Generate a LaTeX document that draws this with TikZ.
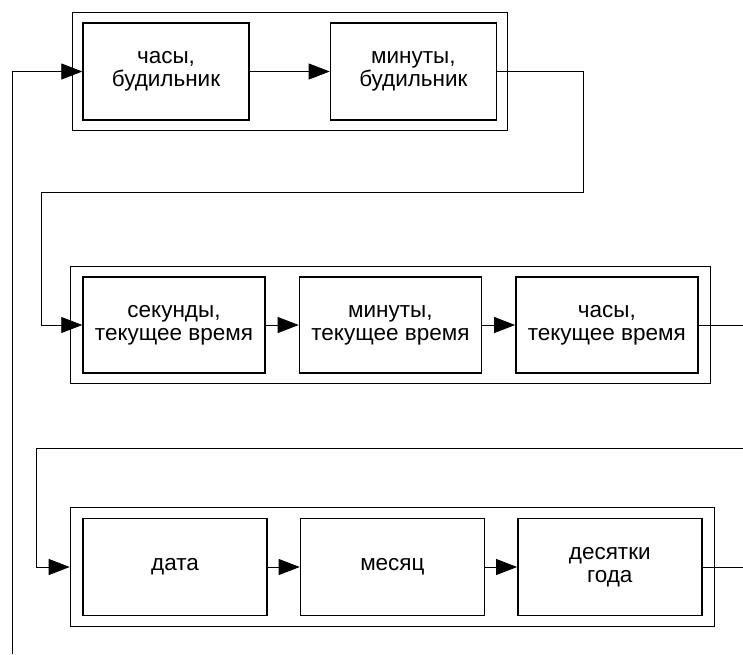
\documentclass[tikz,border=0pt]{standalone}
\usepackage{fontspec}
\setmainfont{Liberation Sans}
\usepackage{tikz}
\usetikzlibrary{positioning,fit,arrows.meta}

\begin{document}
\begin{tikzpicture}[
    x=1pt, y=-1pt,
    node distance=33pt,
    block/.style={rectangle, draw, line width=1.4pt, minimum width=182pt, minimum height=96pt, inner sep=0pt, align=center, font=\fontsize{22.5}{23}\selectfont},
    group/.style={rectangle, draw, line width=1.2pt, inner sep=10pt},
    arrow/.style={-{Triangle[length=21pt,width=16pt]}, line width=0.8pt},
    wire/.style={line width=0.8pt}
]
\useasboundingbox (0,0) rectangle (743,654);

% alarm
\node[block, minimum width=166pt, minimum height=97pt] (alarmh) at (166,71.5) {часы,\\будильник};
\node[block, minimum width=166pt, minimum height=97pt, right=80pt of alarmh] (alarmm) {минуты,\\будильник};
\node[group, fit=(alarmh)(alarmm)] (alarm) {};

% current time
\node[block] (sec) at (174,325) {секунды,\\текущее время};
\node[block, right=of sec] (min) {минуты,\\текущее время};
\node[block, right=of min] (hour) {часы,\\текущее время};
\node[group, inner xsep=12pt, fit=(sec)(hour)] (clock) {};

% date
\node[block, minimum width=184pt, minimum height=97pt] (date) at (175,567) {дата};
\node[block, minimum width=184pt, minimum height=97pt, right=32pt of date] (month) {месяц};
\node[block, minimum width=184pt, minimum height=97pt, right=32pt of month] (year) {десятки\\года};
\node[group, inner xsep=12pt, fit=(date)(year)] (cal) {};

\coordinate (feed) at (12,654);
\coordinate (turn1) at (583,192);
\coordinate (turn2) at (41,192);
\coordinate (out1) at (743,325);
\coordinate (in2) at (743,448);
\coordinate (turn3) at (36,448);
\coordinate (out2) at (743,567);

\draw[arrow] (feed) |- (alarmh.west);
\draw[arrow] (alarmh) -- (alarmm);
\draw[arrow] (alarmm.east) -| (turn1) -- (turn2) |- (sec.west);
\draw[arrow] (sec) -- (min);
\draw[arrow] (min) -- (hour);
\draw[wire] (hour.east) -- (out1);
\draw[arrow] (in2) -- (turn3) |- (cal.west);
\draw[arrow] (date) -- (month);
\draw[arrow] (month) -- (year);
\draw[wire] (year.east) -- (out2);
\end{tikzpicture}
\end{document}
